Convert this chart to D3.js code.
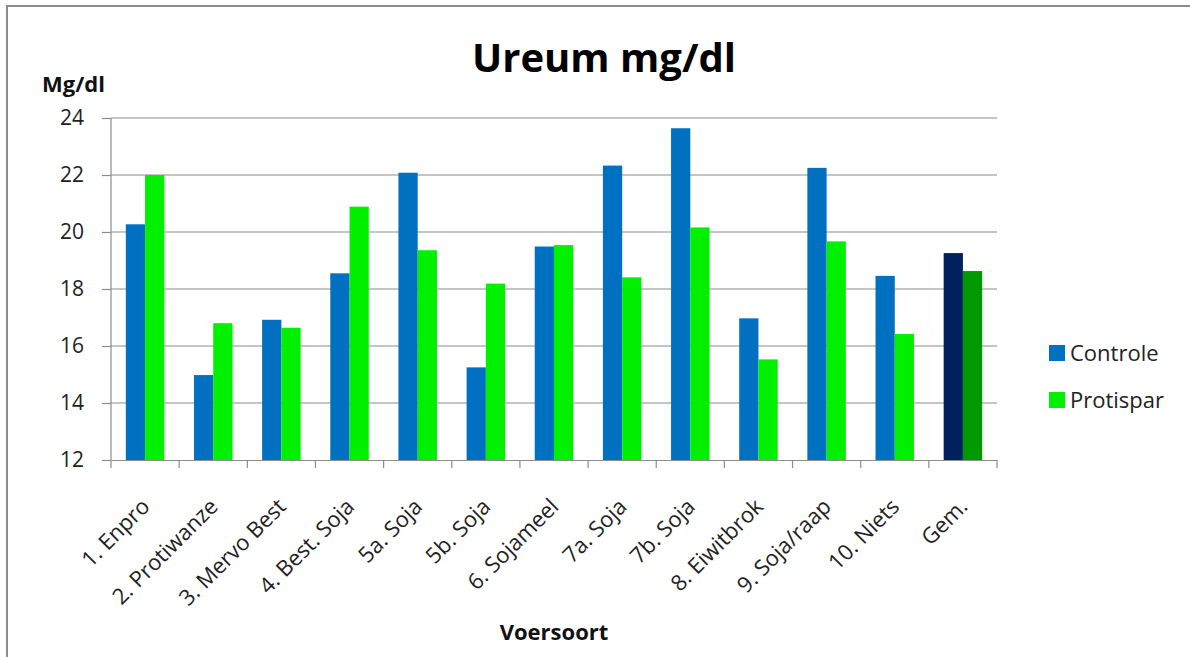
<!DOCTYPE html>
<html>
<head>
<meta charset="utf-8">
<script src="https://cdn.jsdelivr.net/npm/d3@7"></script>
<style>
  html, body { margin: 0; padding: 0; background: #fff; }
  svg { display: block; font-family: "Open Sans", "Liberation Sans", sans-serif; }
</style>
</head>
<body>
<svg id="chart" width="1190" height="657"></svg>
<script>
const categories = ["1. Enpro", "2. Protiwanze", "3. Mervo Best", "4. Best. Soja", "5a. Soja", "5b. Soja",
  "6. Sojameel", "7a. Soja", "7b. Soja", "8. Eiwitbrok", "9. Soja/raap", "10. Niets", "Gem."];
const seriesNames = ["Controle", "Protispar"];
const controle = [20.27, 14.98, 16.92, 18.55, 22.08, 15.25, 19.49, 22.33, 23.64, 16.97, 22.25, 18.46, 19.26];
const protispar = [22.0, 16.8, 16.64, 20.89, 19.36, 18.19, 19.54, 18.41, 20.16, 15.53, 19.67, 16.42, 18.63];
const yTicks = [12, 14, 16, 18, 20, 22, 24];
const seriesColors = ["#0070C0", "#00F000"];
const avgColors = ["#002060", "#009A00"];

const svg = d3.select("#chart");
const margin = { left: 111, right: 1190 - 997, top: 118, bottom: 657 - 460 };
const W = 1190, H = 657;
const x0 = margin.left, x1 = W - margin.right, y0 = H - margin.bottom, y1 = margin.top;

// frame
svg.append("path").attr("d", `M7,${H} L7,6 L${W},6`).attr("fill", "none").attr("stroke", "#8c8c8c").attr("stroke-width", 2);

const x = d3.scaleBand().domain(categories).range([x0, x1]).paddingInner(0).paddingOuter(0);
const xs = d3.scaleBand().domain(seriesNames).range([0, x.bandwidth()]).paddingInner(0).paddingOuter(0.77);
const y = d3.scaleLinear().domain([12, 24]).range([y0, y1]);

// gridlines
svg.append("g").selectAll("line").data(yTicks.slice(1)).join("line")
  .attr("x1", x0).attr("x2", x1).attr("y1", d => y(d)).attr("y2", d => y(d))
  .attr("stroke", "#8c8c8c").attr("stroke-width", 1.2);

// bars
const data = categories.map((c, i) => ({ c, i, vals: [controle[i], protispar[i]] }));
const g = svg.append("g");
data.forEach(d => {
  d.vals.forEach((v, j) => {
    const isAvg = d.c === "Gem.";
    g.append("rect")
      .attr("x", x(d.c) + xs(seriesNames[j]))
      .attr("y", y(v))
      .attr("width", xs.bandwidth())
      .attr("height", y(12) - y(v))
      .attr("fill", isAvg ? avgColors[j] : seriesColors[j]);
  });
});

// y axis
const yAxis = d3.axisLeft(y).tickValues(yTicks).tickSize(9).tickPadding(18).tickFormat(d3.format("d"));
const ya = svg.append("g").attr("transform", `translate(${x0},0)`).call(yAxis);
ya.select(".domain").attr("stroke", "#8c8c8c").attr("stroke-width", 1.2).attr("d", `M-0,${y1}V${y0}`);
ya.selectAll(".tick line").attr("stroke", "#8c8c8c").attr("stroke-width", 1.2);
ya.selectAll(".tick text").attr("font-size", 21).attr("fill", "#222").attr("font-family", "Open Sans");

// x axis
const xAxis = d3.axisBottom(x).tickSize(0).tickFormat("");
const xa = svg.append("g").attr("transform", `translate(0,${y0})`).call(xAxis);
xa.select(".domain").attr("stroke", "#8c8c8c").attr("stroke-width", 1.2);
xa.selectAll(".tick").remove();
const bounds = categories.map(c => x(c)).concat([x1]);
xa.selectAll("line.sep").data(bounds).join("line").attr("class", "sep")
  .attr("x1", d => d).attr("x2", d => d).attr("y1", 0).attr("y2", 8)
  .attr("stroke", "#8c8c8c").attr("stroke-width", 1.2);

// x labels
svg.append("g").selectAll("text").data(categories).join("text")
  .attr("transform", d => `translate(${x(d) + x.bandwidth() / 2 + 6},${y0 + 48}) rotate(-45)`)
  .attr("text-anchor", "end")
  .attr("font-size", 22)
  .attr("fill", "#222")
  .text(d => d);

// title
svg.append("text").attr("x", 604).attr("y", 72).attr("text-anchor", "middle")
  .attr("font-size", 40).attr("font-weight", "bold").attr("fill", "#000").text("Ureum mg/dl");

// y axis title
svg.append("text").attr("x", 42).attr("y", 92).attr("font-size", 22).attr("font-weight", "bold").attr("fill", "#111").text("Mg/dl");

// x axis title
svg.append("text").attr("x", (x0 + x1) / 2).attr("y", 640).attr("text-anchor", "middle")
  .attr("font-size", 22).attr("font-weight", "bold").attr("fill", "#111").text("Voersoort");

// legend
const leg = svg.append("g");
seriesNames.forEach((s, i) => {
  const cy = 353 + i * 47;
  leg.append("rect").attr("x", 1049).attr("y", cy - 8).attr("width", 16).attr("height", 16).attr("fill", seriesColors[i]);
  leg.append("text").attr("x", 1070).attr("y", cy + 8).attr("font-size", 22).attr("fill", "#222").text(s);
});
</script>
</body>
</html>
